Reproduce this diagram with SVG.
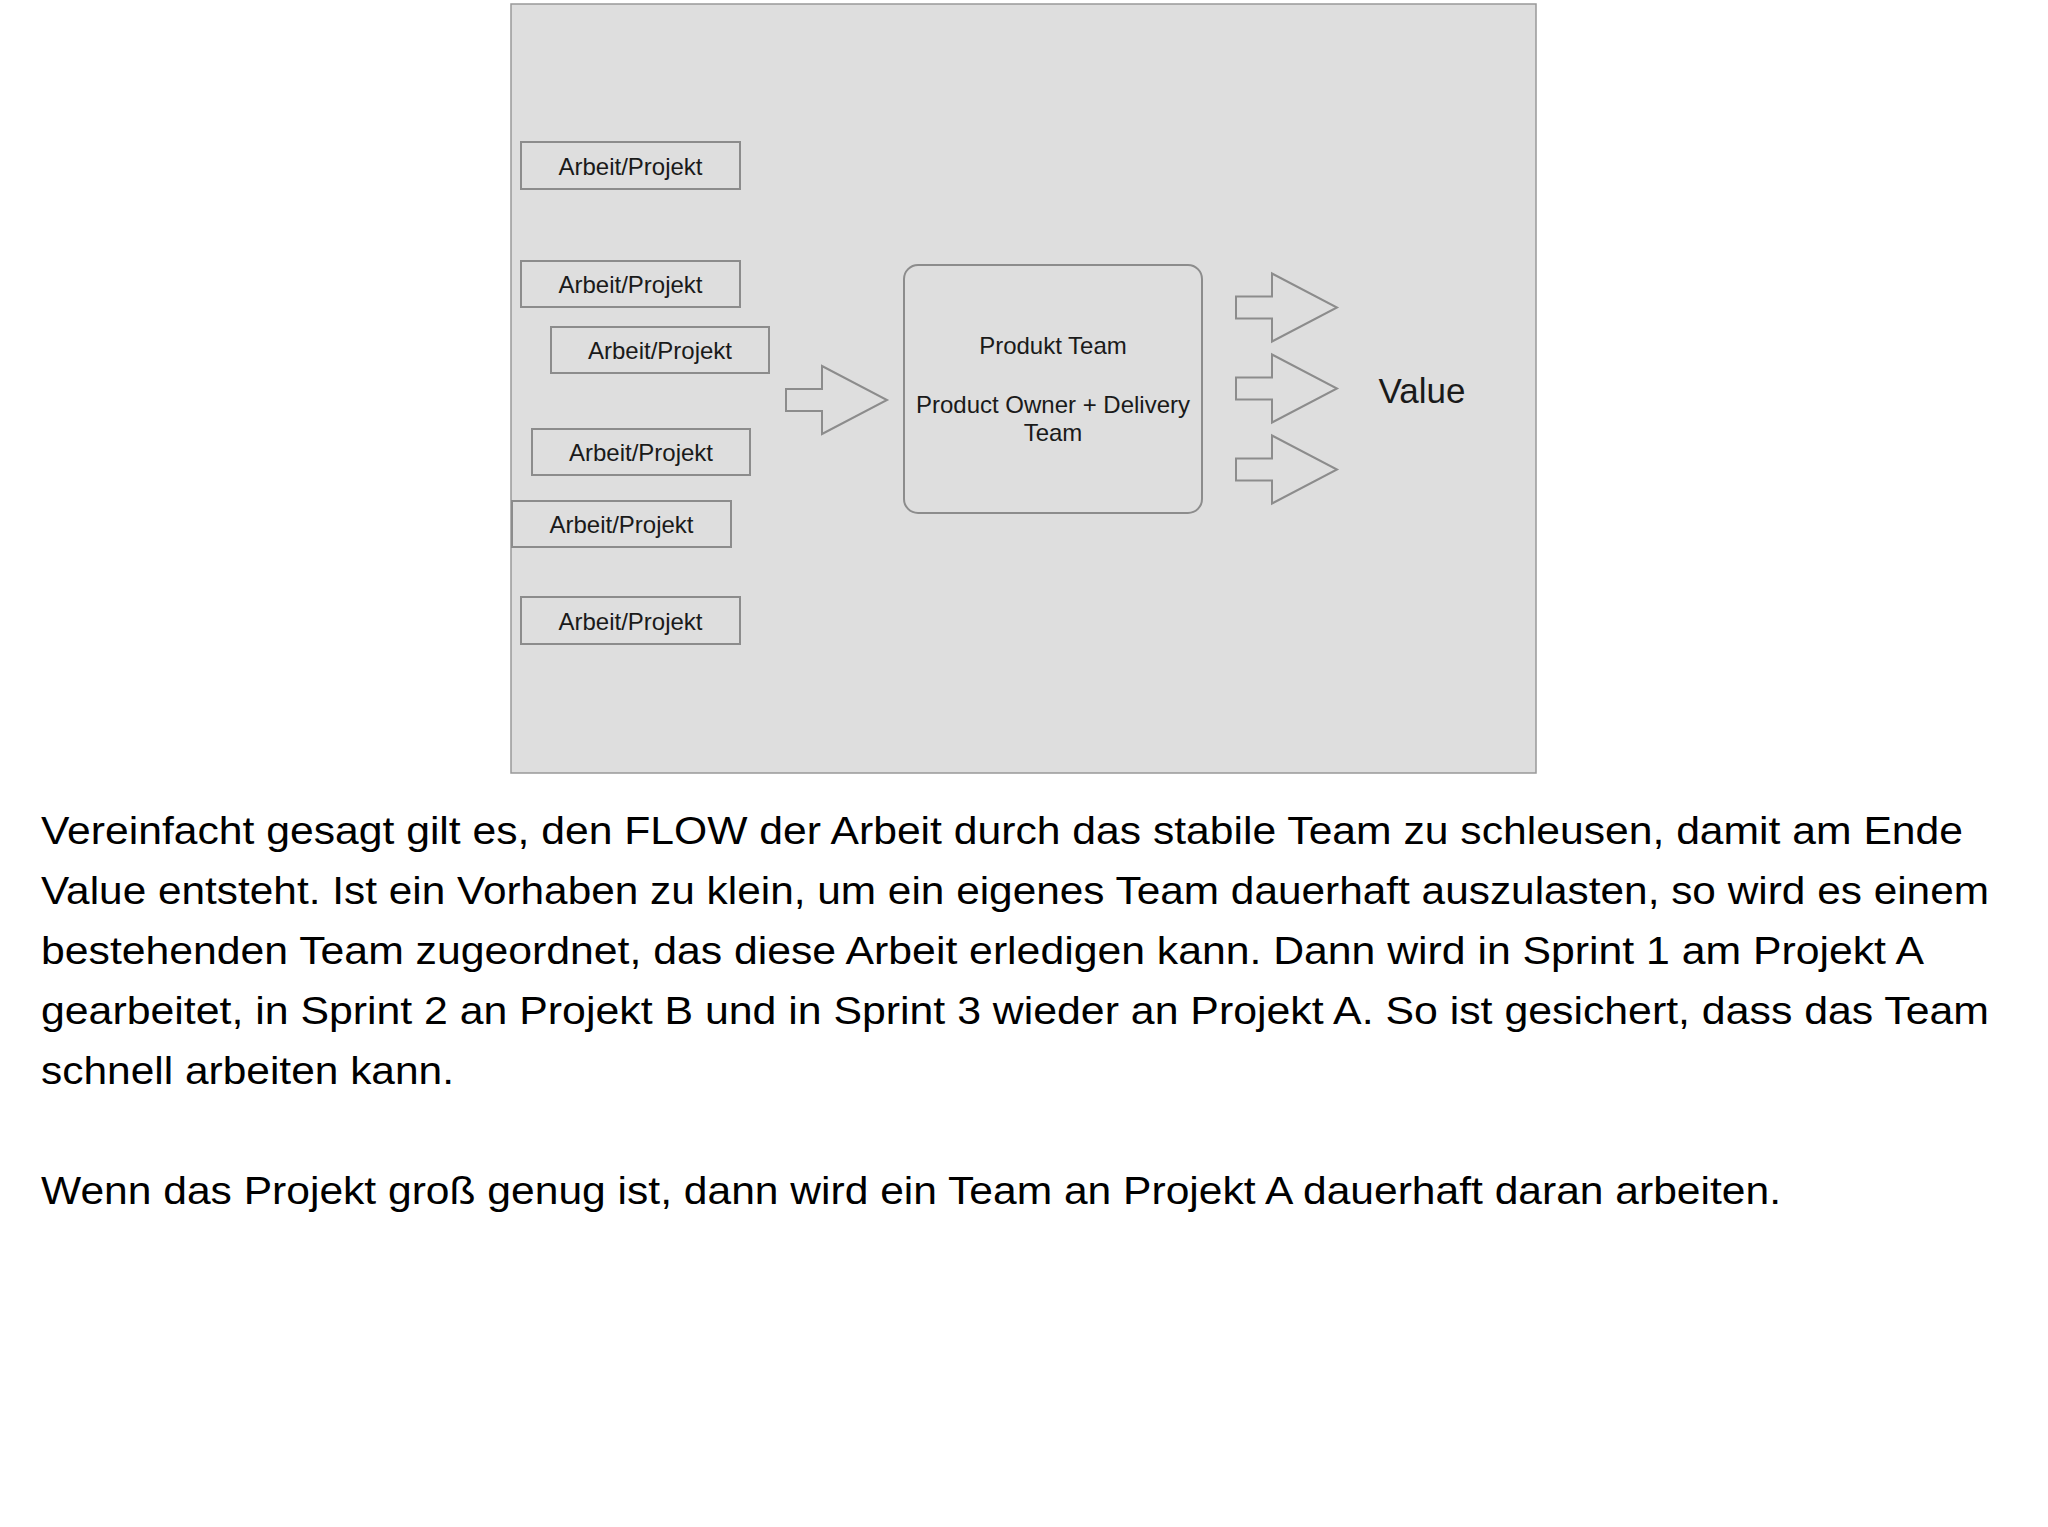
<svg xmlns="http://www.w3.org/2000/svg" xmlns:xlink="http://www.w3.org/1999/xlink" width="2048" height="1527" viewBox="0 0 2048 1527">
<style>
.bg{fill:#dedede;stroke:#999;stroke-width:1.5}
.wp{fill:none;stroke:#8c8c8c;stroke-width:2}
.team{fill:none;stroke:#8c8c8c;stroke-width:2}
.arr{fill:none;stroke:#8c8c8c;stroke-width:2;stroke-linejoin:miter}
.lbl{font-family:"Liberation Sans",Arial,sans-serif;font-size:24px;fill:#1a1a1a;text-anchor:middle}
.val{font-family:"Liberation Sans",Arial,sans-serif;font-size:35px;fill:#1a1a1a;text-anchor:middle}
.para{font-family:"Liberation Sans",Arial,sans-serif;font-size:38px;fill:#000}
</style>
<defs>
<path id="blk" d="M0,-11 L36,-11 L36,-34 L101,0 L36,34 L36,11 L0,11 Z"/>
</defs>
<rect width="2048" height="1527" fill="#fff"/>
<g id="frame"><rect class="bg" x="511" y="4" width="1025" height="769"/></g>
<g id="wp1"><rect class="wp" x="521" y="142" width="219" height="47"/><text class="lbl" x="630.5" y="174.5">Arbeit/Projekt</text></g>
<g id="wp2"><rect class="wp" x="521" y="261" width="219" height="46"/><text class="lbl" x="630.5" y="293">Arbeit/Projekt</text></g>
<g id="wp3"><rect class="wp" x="551" y="327" width="218" height="46"/><text class="lbl" x="660" y="359">Arbeit/Projekt</text></g>
<g id="wp4"><rect class="wp" x="532" y="429" width="218" height="46"/><text class="lbl" x="641" y="461">Arbeit/Projekt</text></g>
<g id="wp5"><rect class="wp" x="512" y="501" width="219" height="46"/><text class="lbl" x="621.5" y="533">Arbeit/Projekt</text></g>
<g id="wp6"><rect class="wp" x="521" y="597" width="219" height="47"/><text class="lbl" x="630.5" y="629.5">Arbeit/Projekt</text></g>
<g id="team"><rect class="team" x="904" y="265" width="298" height="248" rx="14" ry="14"/>
<text class="lbl" x="1053" y="354">Produkt Team</text>
<text class="lbl" x="1053" y="413">Product Owner + Delivery</text>
<text class="lbl" x="1053" y="441">Team</text></g>
<g id="value"><text class="val" x="1422" y="403">Value</text></g>
<g id="connectors">
<use xlink:href="#blk" class="arr" transform="translate(786,400)"/>
<use xlink:href="#blk" class="arr" transform="translate(1236,307.5)"/>
<use xlink:href="#blk" class="arr" transform="translate(1236,388.5)"/>
<use xlink:href="#blk" class="arr" transform="translate(1236,469.5)"/>
</g>
<g id="paragraph">
<text class="para" x="41" y="844" textLength="1922" lengthAdjust="spacingAndGlyphs">Vereinfacht gesagt gilt es, den FLOW der Arbeit durch das stabile Team zu schleusen, damit am Ende</text>
<text class="para" x="41" y="903.5" textLength="1948" lengthAdjust="spacingAndGlyphs">Value entsteht. Ist ein Vorhaben zu klein, um ein eigenes Team dauerhaft auszulasten, so wird es einem</text>
<text class="para" x="41" y="964" textLength="1883" lengthAdjust="spacingAndGlyphs">bestehenden Team zugeordnet, das diese Arbeit erledigen kann. Dann wird in Sprint 1 am Projekt A</text>
<text class="para" x="41" y="1023.5" textLength="1948" lengthAdjust="spacingAndGlyphs">gearbeitet, in Sprint 2 an Projekt B und in Sprint 3 wieder an Projekt A. So ist gesichert, dass das Team</text>
<text class="para" x="41" y="1084" textLength="413" lengthAdjust="spacingAndGlyphs">schnell arbeiten kann.</text>
<text class="para" x="41" y="1203.5" textLength="1740" lengthAdjust="spacingAndGlyphs">Wenn das Projekt groß genug ist, dann wird ein Team an Projekt A dauerhaft daran arbeiten.</text>
</g>
</svg>
